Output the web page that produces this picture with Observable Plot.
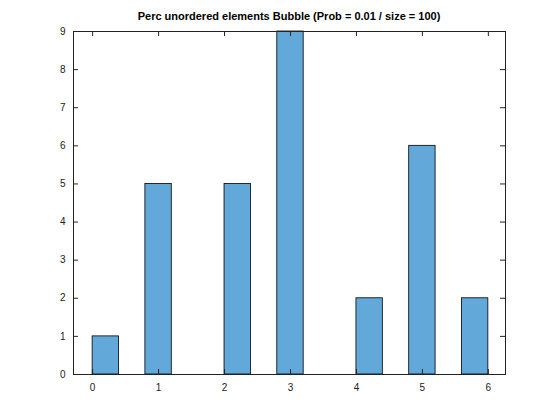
<!DOCTYPE html>
<html><head>
<script src="https://cdn.jsdelivr.net/npm/d3@7"></script>
<script src="https://cdn.jsdelivr.net/npm/@observablehq/plot@0.6"></script>
<style>body{margin:0;background:#fff;font-family:"Liberation Sans",Arial,sans-serif}
#t{height:26px;line-height:20px;padding-top:6px;box-sizing:border-box;width:578px;text-align:center;font-weight:bold;font-size:11px;color:#000}</style>
</head><body>
<div id="t">Perc unordered elements Bubble (Prob = 0.01 / size = 100)</div>
<div id="c"></div>
<script>
const centers=[0.2,1,2.2,3,4.2,5,5.8];
const counts=[1,5,5,9,2,6,2];
const barWidth=0.4;
const xTicks=[0,1,2,3,4,5,6];
const yTicks=[0,1,2,3,4,5,6,7,8,9];
const xmin=-0.29,xmax=6.26,ymin=0,ymax=9;
const data=centers.map((c,i)=>({x1:c-barWidth/2,x2:c+barWidth/2,y:counts[i]}));
const tx=0.075, ty=0.13;
const p=Plot.plot({
  width:560,height:394,marginLeft:73,marginRight:55,marginTop:5,marginBottom:46,
  style:{fontSize:"10px",fontFamily:"Liberation Sans, Arial, sans-serif",color:"#222"},
  x:{domain:[xmin,xmax],ticks:xTicks,tickSize:0,tickPadding:9,label:null,tickFormat:d3.format("d")},
  y:{domain:[ymin,ymax],ticks:yTicks,tickSize:0,tickPadding:8,label:null},
  marks:[
    Plot.rectY(data,{x1:"x1",x2:"x2",y:"y",fill:"#62a8d9",stroke:"#000",strokeWidth:0.8}),
    Plot.ruleY(yTicks,{x1:xmin,x2:xmin+tx,stroke:"#222"}),
    Plot.ruleY(yTicks,{x1:xmax-tx,x2:xmax,stroke:"#222"}),
    Plot.ruleX(xTicks,{y1:ymin,y2:ymin+ty,stroke:"#222"}),
    Plot.ruleX(xTicks,{y1:ymax-ty,y2:ymax,stroke:"#222"}),
    Plot.frame({stroke:"#222"})
  ]
});
document.getElementById("c").append(p);
</script>
</body></html>
